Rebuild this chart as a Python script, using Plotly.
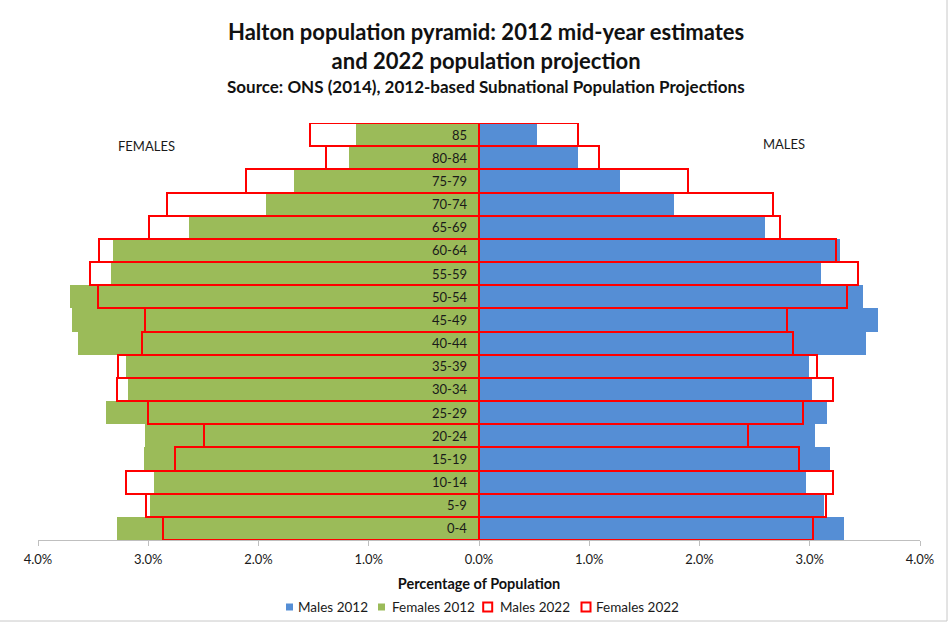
import plotly.graph_objects as go

# Age bands, youngest first
age_groups = ["0-4", "5-9", "10-14", "15-19", "20-24", "25-29", "30-34", "35-39",
              "40-44", "45-49", "50-54", "55-59", "60-64", "65-69", "70-74",
              "75-79", "80-84", "85"]

# Share of total population (%), in the same order as age_groups
males_2012 = [3.31, 3.13, 2.965, 3.18, 3.05, 3.16, 3.02, 2.99, 3.51, 3.62,
              3.48, 3.105, 3.27, 2.59, 1.77, 1.28, 0.90, 0.53]
females_2012 = [3.28, 2.98, 2.945, 3.04, 3.03, 3.38, 3.18, 3.20, 3.64, 3.695,
                3.71, 3.34, 3.32, 2.63, 1.935, 1.68, 1.18, 1.12]
males_2022 = [3.03, 3.15, 3.21, 2.905, 2.44, 2.94, 3.21, 3.07, 2.85, 2.79,
              3.335, 3.44, 3.24, 2.73, 2.67, 1.895, 1.09, 0.90]
females_2022 = [2.87, 3.02, 3.20, 2.76, 2.49, 3.00, 3.28, 3.27, 3.06, 3.03,
                3.46, 3.53, 3.45, 2.99, 2.83, 2.11, 1.39, 1.535]

tick_values = [-4, -3, -2, -1, 0, 1, 2, 3, 4]
tick_labels = ["4.0%", "3.0%", "2.0%", "1.0%", "0.0%", "1.0%", "2.0%", "3.0%", "4.0%"]

FONT = "Lato"
BLUE = "#558ED5"
GREEN = "#9BBB59"
RED = "#FF0000"
TEXT = "#1A1A1A"

# Figure geometry (pixels) used to place paper-anchored decorations
W, H = 951, 624
ML, MR, MT, MB = 38, 31, 123, 84
PW, PH = W - ML - MR, H - MT - MB


def px_x(px):
    return (px - ML) / PW


def px_y(py):
    return (H - MB - py) / PH


series = [
    ("Males 2012", males_2012, 1, dict(color=BLUE, line=dict(width=0))),
    ("Females 2012", females_2012, -1, dict(color=GREEN, line=dict(width=0))),
    ("Males 2022", males_2022, 1, dict(color="rgba(0,0,0,0)", line=dict(color=RED, width=2))),
    ("Females 2022", females_2022, -1, dict(color="rgba(0,0,0,0)", line=dict(color=RED, width=2))),
]

fig = go.Figure()
for name, vals, sign, marker in series:
    fig.add_trace(go.Bar(
        name=name, y=age_groups, x=[sign * v for v in vals], orientation="h",
        marker=marker, width=1, showlegend=False,
    ))

# Age-band labels just left of the centre line
for i, g in enumerate(age_groups):
    fig.add_annotation(x=-0.09, y=i, text=g, showarrow=False, xanchor="right",
                       yanchor="middle", font=dict(family=FONT, size=13, color=TEXT))

fig.add_annotation(x=px_x(146), y=px_y(146), xref="paper", yref="paper", text="FEMALES",
                   xanchor="center", yanchor="middle", showarrow=False,
                   font=dict(family=FONT, size=13, color=TEXT))
fig.add_annotation(x=px_x(784), y=px_y(144), xref="paper", yref="paper", text="MALES",
                   xanchor="center", yanchor="middle", showarrow=False,
                   font=dict(family=FONT, size=13, color=TEXT))

# Titles
fig.add_annotation(x=px_x(486), y=px_y(46), xref="paper", yref="paper",
                   xanchor="center", yanchor="middle",
                   text="<b>Halton population pyramid: 2012 mid-year estimates<br>and 2022 population projection</b>",
                   showarrow=False, font=dict(family=FONT, size=22, color="#111111"))
fig.add_annotation(x=px_x(486), y=px_y(86), xref="paper", yref="paper",
                   xanchor="center", yanchor="middle",
                   text="<b>Source: ONS (2014), 2012-based Subnational Population Projections</b>",
                   showarrow=False, font=dict(family=FONT, size=17, color="#111111"))

# Legend row: swatch centre x, swatch size, text start x (pixels)
legend_slots = [(289.5, 7, 296), (381.5, 7, 389.5), (487.7, 9, 498), (586.0, 9, 593.5)]
legend_y = 607
for (name, _, _, marker), (cx, size, tx) in zip(series, legend_slots):
    filled = marker["line"]["width"] == 0
    fig.add_shape(type="rect", xref="paper", yref="paper",
                  x0=px_x(cx - size / 2), x1=px_x(cx + size / 2),
                  y0=px_y(legend_y + size / 2), y1=px_y(legend_y - size / 2),
                  fillcolor=marker["color"] if filled else "white",
                  line=dict(color=RED if not filled else marker["color"], width=0 if filled else 2))
    fig.add_annotation(x=px_x(tx), y=px_y(legend_y), xref="paper", yref="paper", text=name,
                       xanchor="left", yanchor="middle", showarrow=False,
                       font=dict(family=FONT, size=13.5, color=TEXT))

fig.update_layout(
    width=W, height=H,
    margin=dict(l=ML, r=MR, t=MT, b=MB),
    paper_bgcolor="white", plot_bgcolor="white",
    barmode="overlay", bargap=0,
    font=dict(family=FONT, size=13, color=TEXT),
    xaxis=dict(range=[-4, 4], tickvals=tick_values, ticktext=tick_labels,
               showgrid=False, zeroline=False, showline=True, linecolor="#BFBFBF",
               ticks="outside", tickcolor="#BFBFBF", ticklen=5, ticklabelstandoff=2,
               tickfont=dict(family=FONT, size=13, color=TEXT),
               title=dict(text="<b>Percentage of Population</b>",
                          font=dict(family=FONT, size=14.5, color="#111111"), standoff=13)),
    yaxis=dict(categoryorder="array", categoryarray=age_groups, range=[-0.5, 17.5],
               showticklabels=False, showgrid=False, zeroline=False, showline=False, ticks=""),
    showlegend=False,
)

# Chart frame edges on the right and bottom
fig.add_shape(type="line", xref="paper", yref="paper", x0=px_x(947), x1=px_x(947),
              y0=px_y(621), y1=px_y(-5), line=dict(color="#C8C8C8", width=1))
fig.add_shape(type="line", xref="paper", yref="paper", x0=px_x(-5), x1=px_x(947),
              y0=px_y(621), y1=px_y(621), line=dict(color="#C8C8C8", width=1))

fig.write_html("out.html")
